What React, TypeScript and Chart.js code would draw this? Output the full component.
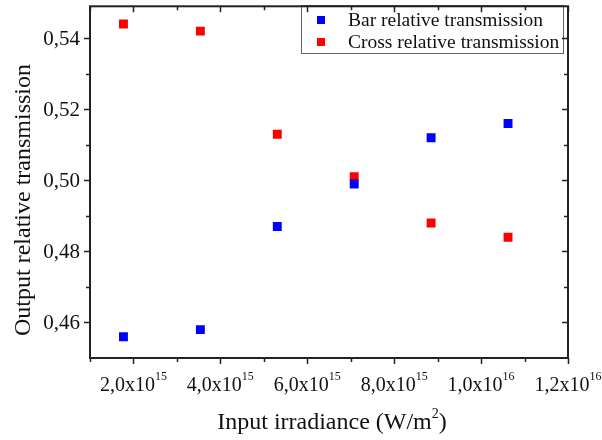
import React, { useEffect, useRef } from "react";
import { Chart, registerables } from "chart.js";

Chart.register(...registerables);

const irradiance = [1.77e15, 3.54e15, 5.31e15, 7.08e15, 8.85e15, 1.062e16];
const barTransmission = [0.456, 0.458, 0.487, 0.499, 0.512, 0.516];
const crossTransmission = [0.544, 0.542, 0.513, 0.501, 0.488, 0.484];

const seriesNames = ["Bar relative transmission", "Cross relative transmission"];

const xTickValues = [2e15, 4e15, 6e15, 8e15, 1e16, 1.2e16];
const xTickMantissas = ["2,0", "4,0", "6,0", "8,0", "1,0", "1,2"];
const xTickExponents = ["15", "15", "15", "15", "16", "16"];
const xMinorTicks = [1e15, 3e15, 5e15, 7e15, 9e15, 1.1e16];

const yTickValues = [0.46, 0.48, 0.5, 0.52, 0.54];
const yTickLabels = ["0,46", "0,48", "0,50", "0,52", "0,54"];
const yMinorTicks = [0.47, 0.49, 0.51, 0.53];

const X_MIN = 1e15;
const X_MAX = 1.2e16;
const Y_MIN = 0.45;
const Y_MAX = 0.549;

const FONT = '"Liberation Serif", "Times New Roman", serif';

const framePlugin = {
  id: "frameAndLabels",
  afterDatasetsDraw(chart: any) {
    const ctx = chart.ctx;
    const { left, right, top, bottom } = chart.chartArea;
    const xs = chart.scales.x;
    const ys = chart.scales.y;
    ctx.save();

    // legend box
    const lx = 301, ly = 5, lw = 262, lh = 48;
    ctx.fillStyle = "#ffffff";
    ctx.fillRect(lx, ly, lw, lh);
    ctx.strokeStyle = "#666";
    ctx.lineWidth = 1;
    ctx.strokeRect(lx + 0.5, ly + 0.5, lw, lh);
    const colors = ["#0000ff", "#ff0000"];
    ctx.font = `19.5px ${FONT}`;
    ctx.textAlign = "left";
    ctx.textBaseline = "alphabetic";
    seriesNames.forEach((name, i) => {
      const cy = 20 + i * 22;
      ctx.fillStyle = colors[i];
      ctx.fillRect(317, cy - 4, 8, 8);
      ctx.fillStyle = "#111";
      ctx.fillText(name, 348, cy + 6);
    });

    // frame
    ctx.strokeStyle = "#222";
    ctx.lineWidth = 2;
    ctx.strokeRect(left, top, right - left, bottom - top);

    // ticks
    ctx.lineWidth = 1.5;
    const major = 6, minor = 4;
    const xTick = (v: number, len: number) => {
      const px = Math.round(xs.getPixelForValue(v)) + 0.5;
      ctx.beginPath();
      ctx.moveTo(px, bottom);
      ctx.lineTo(px, bottom + len);
      ctx.moveTo(px, top);
      ctx.lineTo(px, top + len);
      ctx.stroke();
    };
    const yTick = (v: number, len: number) => {
      const py = Math.round(ys.getPixelForValue(v)) + 0.5;
      ctx.beginPath();
      ctx.moveTo(left, py);
      ctx.lineTo(left - len, py);
      ctx.moveTo(right, py);
      ctx.lineTo(right - len, py);
      ctx.stroke();
    };
    xTickValues.forEach((v) => xTick(v, major));
    xMinorTicks.forEach((v) => xTick(v, minor));
    yTickValues.forEach((v) => yTick(v, major));
    yMinorTicks.forEach((v) => yTick(v, minor));

    // tick labels
    ctx.fillStyle = "#111";
    ctx.textAlign = "right";
    ctx.textBaseline = "middle";
    ctx.font = `21px ${FONT}`;
    yTickValues.forEach((v, i) => {
      ctx.fillText(yTickLabels[i], left - 10, ys.getPixelForValue(v) + 1);
    });

    ctx.textAlign = "left";
    ctx.textBaseline = "alphabetic";
    xTickValues.forEach((v, i) => {
      const main = xTickMantissas[i] + "x10";
      ctx.font = `20px ${FONT}`;
      const wMain = ctx.measureText(main).width;
      ctx.font = `12px ${FONT}`;
      const wExp = ctx.measureText(xTickExponents[i]).width;
      const x0 = xs.getPixelForValue(v) - (wMain + wExp) / 2;
      ctx.font = `20px ${FONT}`;
      ctx.fillText(main, x0, 391);
      ctx.font = `12px ${FONT}`;
      ctx.fillText(xTickExponents[i], x0 + wMain, 380);
    });

    // x title
    ctx.font = `24px ${FONT}`;
    const t1 = "Input irradiance (W/m";
    const t3 = ")";
    const w1 = ctx.measureText(t1).width;
    const w3 = ctx.measureText(t3).width;
    ctx.font = `14px ${FONT}`;
    const w2 = ctx.measureText("2").width;
    const tx = (left + right) / 2 + 3 - (w1 + w2 + w3) / 2;
    ctx.font = `24px ${FONT}`;
    ctx.fillText(t1, tx, 429);
    ctx.font = `14px ${FONT}`;
    ctx.fillText("2", tx + w1, 418);
    ctx.font = `24px ${FONT}`;
    ctx.fillText(t3, tx + w1 + w2, 429);

    // y title
    ctx.save();
    ctx.translate(24, 200);
    ctx.rotate(-Math.PI / 2);
    ctx.textAlign = "center";
    ctx.textBaseline = "middle";
    ctx.font = `24px ${FONT}`;
    ctx.fillText("Output relative transmission", 0, 0);
    ctx.restore();

    ctx.restore();
  },
};

export default function App() {
  const ref = useRef<HTMLCanvasElement | null>(null);
  useEffect(() => {
    if (!ref.current) return;
    const chart = new Chart(ref.current, {
      type: "scatter",
      data: {
        datasets: [
          {
            label: seriesNames[0],
            data: irradiance.map((x, i) => ({ x, y: barTransmission[i] })),
            backgroundColor: "#0000ff",
            borderWidth: 0,
            pointStyle: "rect",
            pointRadius: 6.3,
            pointHoverRadius: 6.3,
          },
          {
            label: seriesNames[1],
            data: irradiance.map((x, i) => ({ x, y: crossTransmission[i] })),
            backgroundColor: "#ff0000",
            borderWidth: 0,
            pointStyle: "rect",
            pointRadius: 6.3,
            pointHoverRadius: 6.3,
          },
        ],
      },
      options: {
        animation: false,
        responsive: false,
        devicePixelRatio: 1,
        layout: { padding: { top: 4, right: 34, left: 0, bottom: 0 } },
        plugins: { legend: { display: false }, tooltip: { enabled: false } },
        scales: {
          x: {
            type: "linear",
            min: X_MIN,
            max: X_MAX,
            grid: { display: false },
            border: { display: false },
            ticks: { display: false },
            afterFit: (s: any) => {
              s.height = 82;
            },
          },
          y: {
            type: "linear",
            min: Y_MIN,
            max: Y_MAX,
            grid: { display: false },
            border: { display: false },
            ticks: { display: false },
            afterFit: (s: any) => {
              s.width = 90;
            },
          },
        },
      },
      plugins: [framePlugin],
    });
    return () => chart.destroy();
  }, []);
  return (
    <div style={{ position: "fixed", left: 0, top: 0, width: 602, height: 440, background: "#fff" }}>
      <canvas ref={ref} width={602} height={440} style={{ width: 602, height: 440 }} />
    </div>
  );
}
